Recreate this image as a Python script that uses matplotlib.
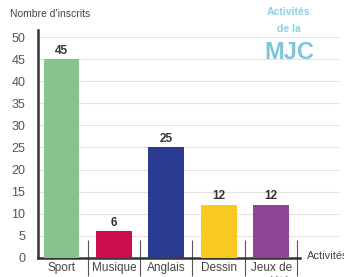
import matplotlib.pyplot as plt
from matplotlib import font_manager

activites = ["Sport", "Musique", "Anglais", "Dessin", "Jeux de\nsociété"]
inscrits = [45, 6, 25, 12, 12]
couleurs = ["#86c48c", "#cc0f4c", "#2c3b92", "#f8c920", "#8f4496"]
yticks = [0, 5, 10, 15, 20, 25, 30, 35, 40, 45, 50]

names = {f.name for f in font_manager.fontManager.ttflist}
police = "Liberation Sans Narrow" if "Liberation Sans Narrow" in names else "Liberation Sans"
plt.rcParams["font.family"] = [police, "DejaVu Sans"]

fig = plt.figure(figsize=(3.44, 2.77), dpi=100)
ax = fig.add_axes([0.110, 0.069, 0.762, 0.821])

x = list(range(len(activites)))
ax.bar(x, inscrits, width=0.68, color=couleurs, zorder=3)
for xi, v in zip(x, inscrits):
    ax.text(xi, v + 0.6, str(v), ha="center", va="bottom", fontsize=8.5,
            fontweight="bold", color="#333333", zorder=4)

ax.set_xlim(-0.45, 4.55)
ax.set_ylim(0, 51.5)
ax.set_yticks(yticks)
# lignes de grille qui dépassent l'axe à droite
ax.hlines(yticks[1:], -0.45, 5.3, color="#e2e2e2", linewidth=0.8,
          zorder=0, clip_on=False)

ax.set_xticks(x)
ax.set_xticklabels(activites, fontsize=8.5, color="#444444", va="top")
ax.tick_params(axis="x", length=0, pad=3)
ax.set_xticks([i + 0.5 for i in x], minor=True)
ax.tick_params(axis="x", which="minor", direction="inout", length=26,
               width=0.8, color="#555555")
ax.tick_params(axis="y", length=0, labelsize=9, labelcolor="#555555", pad=9)

for s in ["top", "right"]:
    ax.spines[s].set_visible(False)
for s in ["left", "bottom"]:
    ax.spines[s].set_color("#333333")
    ax.spines[s].set_linewidth(1.8)

fig.text(0.03, 0.950, "Nombre d'inscrits", fontsize=7.5, color="#444444", va="center")
fig.text(0.893, 0.075, "Activités", fontsize=8, color="#444444", va="center")
fig.text(0.84, 0.958, "Activités", fontsize=7.5, color="#8ccfe0",
         ha="center", va="center", fontweight="bold")
fig.text(0.84, 0.895, "de la", fontsize=7.5, color="#8ccfe0",
         ha="center", va="center", fontweight="bold")
fig.text(0.84, 0.812, "MJC", fontsize=17, color="#7fc6d8",
         ha="center", va="center", fontweight="bold")

fig.savefig("out.png", dpi=100)
